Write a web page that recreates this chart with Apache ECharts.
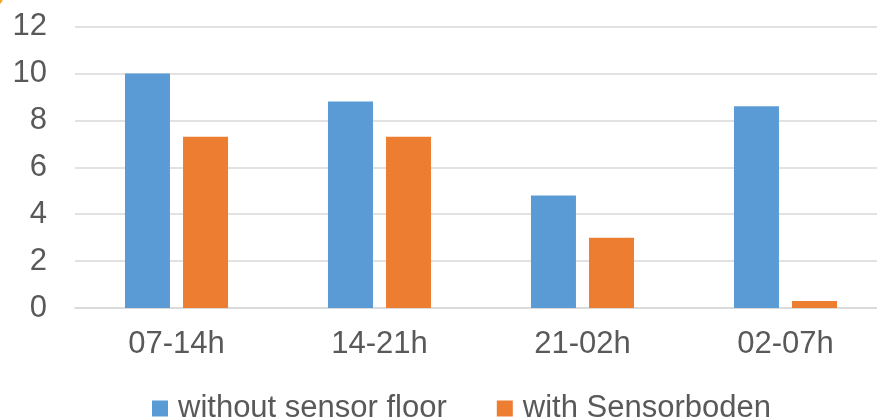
<!DOCTYPE html>
<html>
<head>
<meta charset="utf-8">
<script src="https://cdn.jsdelivr.net/npm/echarts@6/dist/echarts.min.js"></script>
<style>
html,body{margin:0;padding:0;background:#fff;overflow:hidden;width:877px;height:418px;}
#chart{width:887px;height:418px;}
</style>
</head>
<body>
<div id="chart"></div>
<script>
const categories = ['07-14h', '14-21h', '21-02h', '02-07h'];
const seriesNames = ['without sensor floor', 'with Sensorboden'];
const withoutSensor = [10, 8.8, 4.8, 8.6];
const withSensor = [7.3, 7.3, 3.0, 0.3];
const yTicks = [0, 2, 4, 6, 8, 10, 12];

const font = 'Liberation Sans, Arial, sans-serif';
const textColor = '#595959';
const chart = echarts.init(document.getElementById('chart'), null, {renderer: 'canvas'});
chart.setOption({
  animation: false,
  backgroundColor: '#ffffff',
  grid: {left: 75, right: 0, top: 26.5, bottom: 110, containLabel: false},
  legend: {
    left: 147, top: 388,
    itemWidth: 16, itemHeight: 16, itemGap: 50,
    icon: 'rect',
    textStyle: {fontFamily: font, fontSize: 31, color: textColor, padding: [0, 0, 0, 5]},
    data: seriesNames
  },
  xAxis: {
    type: 'category',
    data: categories,
    axisTick: {show: false},
    axisLine: {lineStyle: {color: '#D9D9D9', width: 1.5}},
    axisLabel: {fontFamily: font, fontSize: 31, color: textColor, margin: 21}
  },
  yAxis: {
    type: 'value',
    min: yTicks[0], max: yTicks[yTicks.length - 1], interval: 2,
    axisLine: {show: false},
    axisTick: {show: false},
    splitLine: {lineStyle: {color: '#D9D9D9', width: 1.5}},
    axisLabel: {fontFamily: font, fontSize: 31, color: textColor, margin: 28}
  },
  series: [
    {name: seriesNames[0], type: 'bar', data: withoutSensor, barWidth: 45, barGap: '29%', itemStyle: {color: '#5B9BD5'}},
    {name: seriesNames[1], type: 'bar', data: withSensor, barWidth: 45, barGap: '29%', itemStyle: {color: '#ED7D31'}}
  ],
  graphic: [
    {type: 'circle', shape: {cx: -4, cy: -2, r: 7}, style: {fill: '#F5A623'}}
  ]
});
</script>
</body>
</html>
